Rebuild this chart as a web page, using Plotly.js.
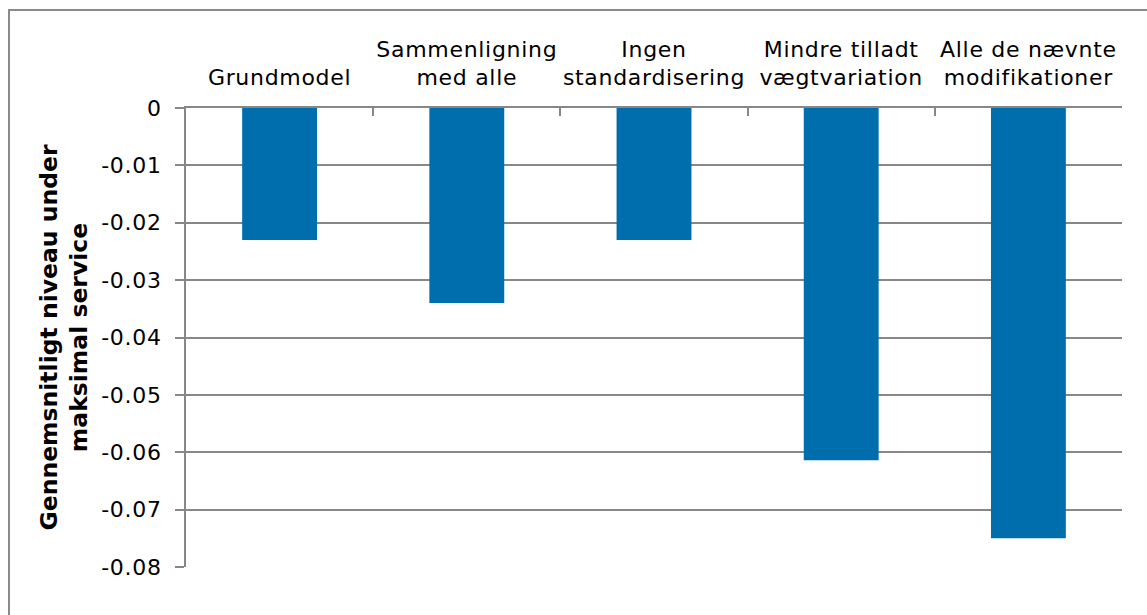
<!DOCTYPE html>
<html>
<head>
<meta charset="utf-8">
<script src="https://cdn.plot.ly/plotly-3.0.1.min.js"></script>
<style>
  html, body { margin: 0; padding: 0; background: #fff; }
  #wrap { position: relative; width: 1147px; height: 615px; overflow: hidden; }
  #chart { position: absolute; left: 0; top: 0; width: 1147px; height: 615px; }
  #frame { position: absolute; left: 8px; top: 9px; width: 1200px; height: 700px;
           border-left: 2px solid #8a8a8a; border-top: 2px solid #8a8a8a; pointer-events: none; }
  #chart .xtick text, #chart .ytick text { letter-spacing: 0.7px; }
</style>
</head>
<body>
<div id="wrap">
  <div id="chart"></div>
  <div id="frame"></div>
</div>
<script>
// Scenarios compared along the top axis
const categories = [
  "Grundmodel",
  "Sammenligning<br>med alle",
  "Ingen<br>standardisering",
  "Mindre tilladt<br>vægtvariation",
  "Alle de nævnte<br>modifikationer"
];
// Average level below maximal service
const values = [-0.023, -0.034, -0.023, -0.0614, -0.075];
// Y axis ticks, printed with a plain hyphen
const yTickVals = [0, -0.01, -0.02, -0.03, -0.04, -0.05, -0.06, -0.07, -0.08];
const yTickText = ["0", "-0.01", "-0.02", "-0.03", "-0.04", "-0.05", "-0.06", "-0.07", "-0.08"];
const yTitle = "Gennemsnitligt niveau under<br>maksimal service";

const axisGrey = "#878787";

const trace = {
  type: "bar",
  x: categories,
  y: values,
  marker: { color: "#006EAD", line: { width: 0 } },
  width: 0.4,
  hoverinfo: "x+y"
};

const layout = {
  width: 1147,
  height: 615,
  margin: { l: 186, r: 25, t: 108, b: 48 },
  paper_bgcolor: "#ffffff",
  plot_bgcolor: "#ffffff",
  font: { family: "DejaVu Sans, Verdana, sans-serif", color: "#000000", size: 22 },
  showlegend: false,
  bargap: 0.6,
  xaxis: {
    side: "top",
    type: "category",
    showline: true,
    linecolor: axisGrey,
    linewidth: 2,
    ticks: "inside",
    tickson: "boundaries",
    ticklen: 8,
    tickwidth: 2,
    tickcolor: axisGrey,
    showgrid: false,
    zeroline: false,
    tickfont: { size: 22, color: "#000" },
    ticklabelstandoff: 12,
    automargin: false
  },
  yaxis: {
    range: [-0.08, 0],
    tickvals: yTickVals,
    ticktext: yTickText,
    showline: true,
    linecolor: axisGrey,
    linewidth: 2,
    ticks: "outside",
    ticklen: 9,
    tickwidth: 2,
    tickcolor: axisGrey,
    showgrid: true,
    gridcolor: axisGrey,
    gridwidth: 2,
    zeroline: false,
    tickfont: { size: 22, color: "#000" },
    ticklabelstandoff: 9,
    title: {
      text: yTitle,
      font: { size: 23.5, weight: "bold", color: "#000" },
      standoff: 10
    },
    automargin: false
  }
};

Plotly.newPlot("chart", [trace], layout, { displayModeBar: false, staticPlot: true });
</script>
</body>
</html>
